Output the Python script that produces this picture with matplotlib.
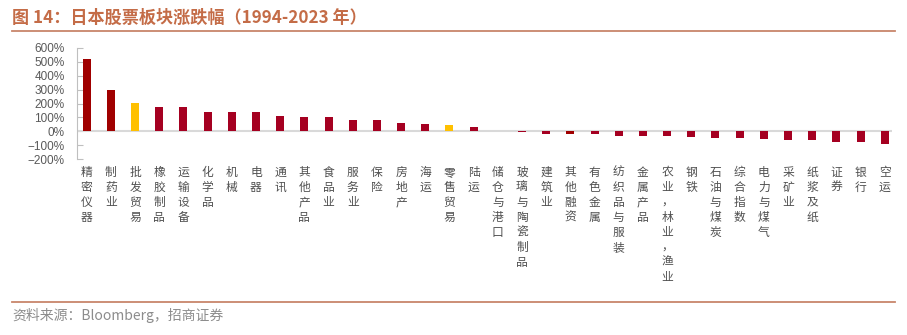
import matplotlib
matplotlib.use('Agg')
import matplotlib.pyplot as plt
import numpy as np

plt.rcParams['font.family'] = ['Noto Sans CJK SC', 'DejaVu Sans']
plt.rcParams['axes.unicode_minus'] = True

# Data: sector returns 1994-2023 (%)
sectors = ['精密仪器', '制药业', '批发贸易', '橡胶制品', '运输设备', '化学品', '机械', '电器',
           '通讯', '其他产品', '食品业', '服务业', '保险', '房地产', '海运', '零售贸易', '陆运',
           '储仓与港口', '玻璃与陶瓷制品', '建筑业', '其他融资', '有色金属', '纺织品与服装',
           '金属产品', '农业，林业，渔业', '钢铁', '石油与煤炭', '综合指数', '电力与煤气',
           '采矿业', '纸浆及纸', '证券', '银行', '空运']
returns = [520, 295, 203, 176, 172, 140, 136, 136,
           111, 104, 104, 78, 78, 60, 53, 48, 33,
           0, -5, -17, -20, -21, -32,
           -32, -34, -39, -46, -49, -56,
           -61, -66, -76, -80, -93]
yticks = [-200, -100, 0, 100, 200, 300, 400, 500, 600]

# highlight groups
yellow_sectors = ['批发贸易', '零售贸易']
dark_sectors = ['精密仪器', '制药业', '其他融资']

colors = []
for s in sectors:
    if s in yellow_sectors:
        colors.append('#FFC000')
    elif s in dark_sectors:
        colors.append('#A00000')
    else:
        colors.append('#A50021')

fig = plt.figure(figsize=(9.07, 3.35), dpi=100)
ax = fig.add_axes([77 / 907, 1 - 159 / 335, (892 - 77) / 907, (159 - 48) / 335])

x = np.arange(len(sectors))
ax.bar(x, returns, width=0.33, color=colors, zorder=3)
ax.axhline(0, color='#D9D9D9', lw=1.5, zorder=2)

ax.set_xlim(-0.4, len(sectors) - 0.7)
ax.set_ylim(-200, 600)
ax.set_yticks(yticks)
ax.set_yticklabels(['{}%'.format(v).replace('-', '\u2212') for v in yticks],
                   family='Liberation Sans', fontsize=8.5, color='#595959')
ax.tick_params(axis='y', direction='in', length=4, color='#BFBFBF', pad=9)

ax.set_xticks(x)
ax.set_xticklabels(['\n'.join(s) for s in sectors], fontsize=8.5, color='#505050',
                   va='top', linespacing=1.2)
ax.tick_params(axis='x', length=0, pad=5)

for side in ['top', 'right', 'bottom']:
    ax.spines[side].set_visible(False)
ax.spines['left'].set_color('#BFBFBF')

# title, rules and source
fig.text(12 / 907, 1 - 18 / 335, '图 14：日本股票板块涨跌幅（1994-2023 年）', fontsize=12.3,
         fontweight='bold', color='#C46C47', va='center', ha='left')
fig.add_artist(plt.Line2D([12 / 907, 895 / 907], [1 - 31 / 335, 1 - 31 / 335],
                          color='#C8866B', lw=1.3))
fig.add_artist(plt.Line2D([12 / 907, 895 / 907], [1 - 302 / 335, 1 - 302 / 335],
                          color='#C8866B', lw=1.3))
fig.text(12 / 907, 1 - 315 / 335, '资料来源：Bloomberg，招商证券', fontsize=10,
         color='#8C8C8C', va='center', ha='left')

fig.savefig('out.png', dpi=100)
